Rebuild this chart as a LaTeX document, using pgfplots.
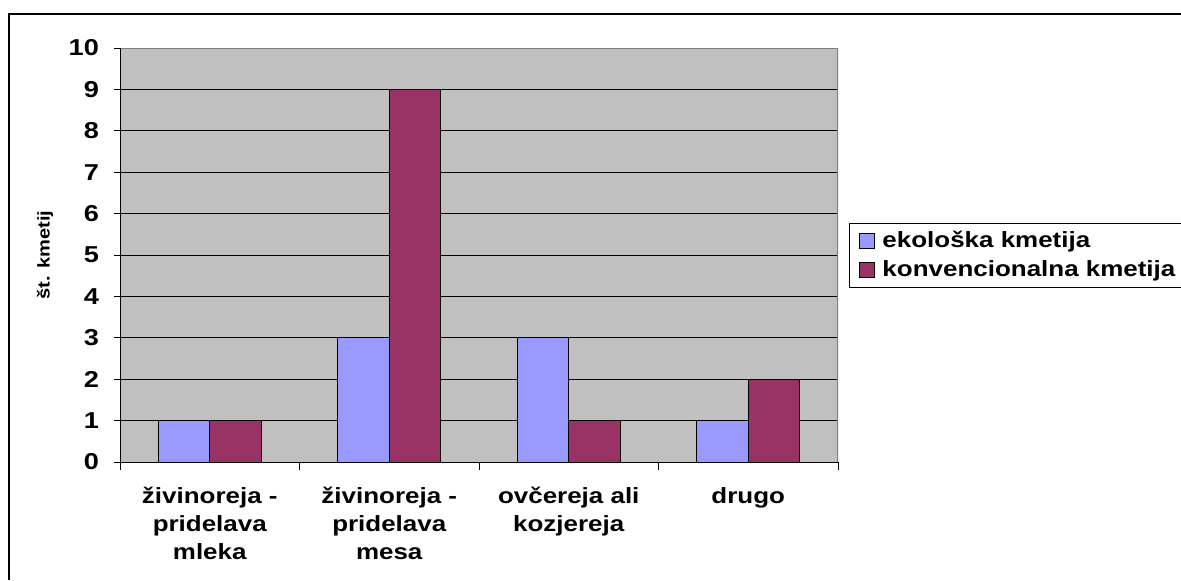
\documentclass[border=0pt]{standalone}
\usepackage{fontspec}
\setmainfont{Liberation Sans}[FakeStretch=1.18]
\usepackage{pgfplots}
\pgfplotsset{compat=1.18}
\definecolor{eko}{HTML}{9999FF}
\definecolor{konv}{HTML}{993366}
\definecolor{plotbg}{HTML}{C0C0C0}
\pgfplotsset{sqlegend/.style={legend image code/.code={\path (0pt,0pt); \draw[fill=#1,draw=black,line width=0.5pt] (4pt,-3.7pt) rectangle (11.5pt,3.7pt);}}}
\begin{document}
\begin{tikzpicture}
\useasboundingbox (0,0) rectangle (590.5pt,290pt);
\draw[line width=1.1pt] (4.5pt,0) -- (4.5pt,283pt) -- (590.5pt,283pt);
\begin{axis}[
  at={(60pt,59pt)}, anchor=south west,
  width=359pt, height=207pt, scale only axis,
  xmin=0, xmax=4, ymin=0, ymax=10,
  axis line style={draw=none},
  axis background/.style={fill=plotbg},
  ytick={0,1,2,3,4,5,6,7,8,9,10},
  ymajorgrids, grid style={black, line width=0.5pt},
  xtick={0.5,1.5,2.5,3.5},
  xticklabels={{živinoreja -\\pridelava\\mleka},{živinoreja -\\pridelava\\mesa},{ovčereja ali\\kozjereja},{drugo}},
  minor xtick={0,1,2,3,4},
  xtick pos=bottom, ytick pos=left,
  tick align=outside,
  major tick length=3pt,
  minor tick length=4pt,
  major x tick style={draw=none},
  minor x tick style={black, line width=0.5pt},
  major y tick style={black, line width=0.5pt},
  /pgf/number format/assume math mode=true,
  tick label style={font=\bfseries\fontsize{11.5}{13.5}\selectfont},
  yticklabel style={xshift=-4pt},
  xticklabel style={align=center, anchor=north, yshift=-6pt, font=\bfseries\fontsize{11}{14}\selectfont},
  ylabel={št. kmetij},
  ylabel style={at={(axis description cs:-0.1045,0.5)}, anchor=center, font=\bfseries\fontsize{8.5}{10}\selectfont},
  legend style={at={(axis description cs:1.0153,0.5773)}, anchor=north west, draw=black, line width=0.5pt,
    font=\bfseries\fontsize{11}{13}\selectfont, row sep=1pt, inner xsep=1pt, inner ysep=2pt,
    nodes={inner xsep=3.5pt}},
  legend cell align=left,
]
\addplot[ybar, bar width=0.2875, bar shift=-0.14375, fill=eko, draw=black, line width=0.5pt, sqlegend=eko]
  coordinates {(0.5,1) (1.5,3) (2.5,3) (3.5,1)};
\addlegendentry{ekološka kmetija}
\addplot[ybar, bar width=0.2875, bar shift=0.14375, fill=konv, draw=black, line width=0.5pt, sqlegend=konv]
  coordinates {(0.5,1) (1.5,9) (2.5,1) (3.5,2)};
\addlegendentry{konvencionalna kmetija}
\draw[gray, line width=0.6pt] (rel axis cs:0,1) -- (rel axis cs:1,1) -- (rel axis cs:1,0);
\draw[black, line width=0.5pt] (rel axis cs:0,1) -- (rel axis cs:0,0) -- (rel axis cs:1,0);
\end{axis}
\end{tikzpicture}
\end{document}
